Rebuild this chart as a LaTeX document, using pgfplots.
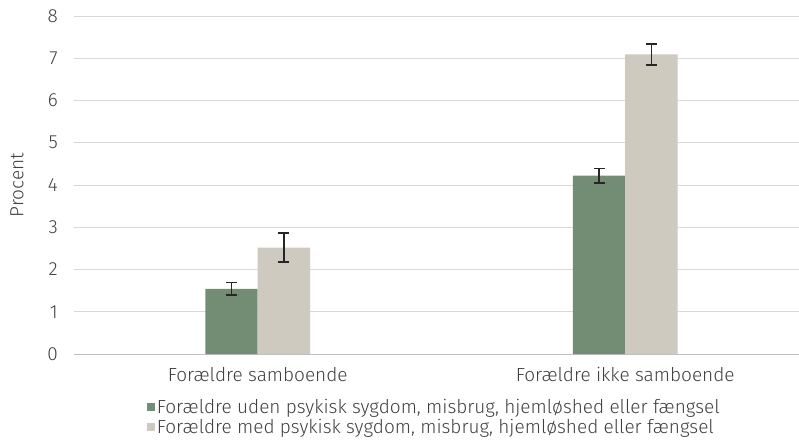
\documentclass[border=0pt]{standalone}
\usepackage{fontspec}
\setmainfont{Fira Sans Light}
\usepackage{pgfplots}
\pgfplotsset{compat=1.18}
\definecolor{txt}{RGB}{64,64,64}
\definecolor{grn}{RGB}{114,141,115}
\definecolor{bge}{RGB}{206,202,191}
\definecolor{gridc}{RGB}{217,217,217}
\definecolor{axc}{RGB}{191,191,191}
\definecolor{errc}{RGB}{38,38,38}

\begin{document}
\begin{tikzpicture}[font=\fontsize{19}{22}\selectfont]
\begin{axis}[
  at={(0,0)}, anchor=south west, scale only axis,
  width=725pt, height=338pt,
  ybar=0pt, bar width=52.3pt,
  xmin=-0.5, xmax=1.473, ymin=0, ymax=8,
  xtick={0,1},
  xticklabels={Forældre samboende, Forældre ikke samboende},
  ytick={0,1,...,8},
  /pgf/number format/assume math mode=true,
  ymajorgrids, grid style={draw=gridc, line width=1pt},
  axis lines*=left,
  y axis line style={draw=none},
  x axis line style={draw=axc, line width=1pt, -},
  major tick length=0pt,
  tick label style={text=txt},
  yticklabel style={inner sep=0pt, xshift=-16pt},
  xticklabel style={inner sep=0pt, yshift=-13pt},
  ylabel={Procent},
  ylabel style={at={(axis description cs:-0.0786,0.5)}, anchor=center, text=txt},
  legend image code/.code={\fill[#1] (0pt,-4pt) rectangle (8pt,4pt);},
  legend style={draw=none, fill=none, at={(0.497,0)}, anchor=north,
    yshift=-43pt, inner sep=0pt, row sep=0pt, text=txt,
    font=\fontsize{19}{22}\selectfont},
  legend cell align=left,
]
\addplot[fill=grn, draw=none,
  error bars/.cd, y dir=both, y explicit,
  error bar style={errc, line width=1.7pt},
  error mark options={rotate=90, errc, mark size=5.5pt, line width=1.7pt}]
  coordinates {(0,1.54) +- (0,0.15) (1,4.22) +- (0,0.17)};
\addplot[fill=bge, draw=none,
  error bars/.cd, y dir=both, y explicit,
  error bar style={errc, line width=1.7pt},
  error mark options={rotate=90, errc, mark size=5.5pt, line width=1.7pt}]
  coordinates {(0,2.52) +- (0,0.34) (1,7.09) +- (0,0.25)};
\legend{{Forældre uden psykisk sygdom, misbrug, hjemløshed eller fængsel},
  {Forældre med psykisk sygdom, misbrug, hjemløshed eller fængsel}}
\end{axis}
\pgfresetboundingbox
\path[use as bounding box] (-74pt,-85pt) rectangle (725pt,354pt);
\end{tikzpicture}
\end{document}
